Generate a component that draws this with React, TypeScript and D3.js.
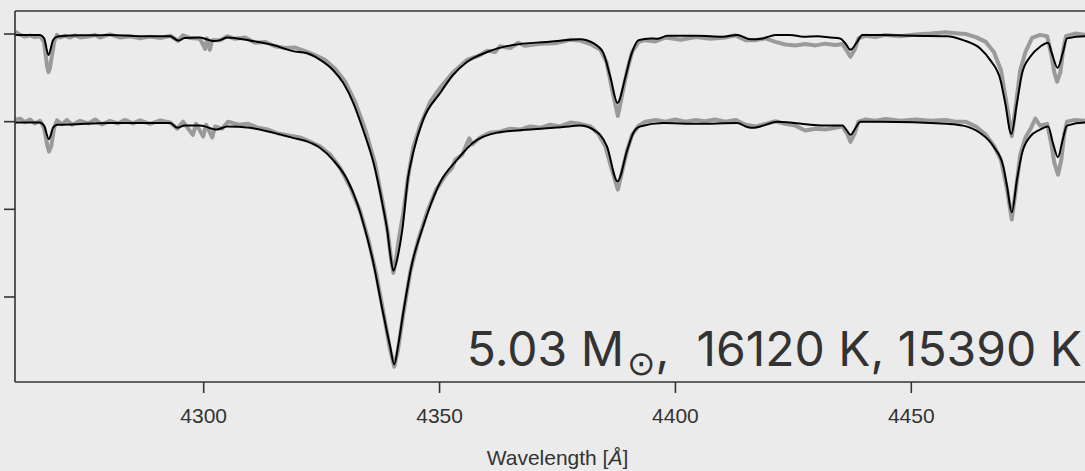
import React from 'react';
import * as d3 from 'd3';

const xTicks = [4300, 4350, 4400, 4450];
const yTicks = [0.4, 0.6, 0.8, 1.0];
const lowerOffset = 0.2;
const xDomain: [number, number] = [4260, 4490];
const yDomain: [number, number] = [0.206, 1.0525];
const annotationParts = ['5.03 M', '\u2299', ',  16120 K, 15390 K'];
const xLabel = 'Wavelength [';
const xLabelUnit = 'Å';

type P = [number, number];

const upperModel: P[] = [
  [4260.0, 0.998], [4265.3, 0.998], [4266.15, 0.991], [4267.1, 0.952], [4268.06, 0.986], [4268.9, 0.994],
  [4269.5, 0.995], [4273.8, 0.997], [4278.0, 0.997], [4280.1, 0.998], [4286.5, 0.995], [4292.9, 0.995],
  [4294.6, 0.985], [4296.0, 0.991], [4299.2, 0.992], [4302.0, 0.984], [4303.5, 0.986], [4305.0, 0.992],
  [4309.8, 0.985], [4314.7, 0.975], [4318.9, 0.961], [4321.9, 0.956], [4324.7, 0.941], [4327.4, 0.918],
  [4329.6, 0.888], [4331.7, 0.843], [4333.8, 0.781], [4336.0, 0.706], [4338.0, 0.606], [4338.9, 0.553],
  [4339.5, 0.501], [4340.2, 0.46], [4341.3, 0.501], [4342.1, 0.553], [4343.3, 0.671], [4344.4, 0.729],
  [4346.5, 0.804], [4350.1, 0.865], [4352.9, 0.907], [4355.8, 0.936], [4360.1, 0.959], [4365.6, 0.975],
  [4372.8, 0.982], [4379.8, 0.988], [4382.6, 0.979], [4384.7, 0.957], [4386.2, 0.902], [4387.7, 0.843],
  [4389.4, 0.902], [4390.5, 0.948], [4392.2, 0.986], [4394.7, 0.99], [4396.1, 0.989], [4398.3, 0.996],
  [4404.6, 0.996], [4410.1, 0.994], [4413.1, 0.998], [4415.9, 0.988], [4418.6, 0.99], [4421.2, 0.998],
  [4424.3, 0.998], [4427.1, 0.994], [4430.1, 0.995], [4432.8, 0.992], [4434.9, 0.99], [4436.0, 0.979],
  [4437.1, 0.964], [4438.5, 0.982], [4439.6, 0.998], [4443.4, 0.998], [4450.4, 0.996], [4457.6, 0.995],
  [4461.0, 0.986], [4464.6, 0.967], [4466.7, 0.941], [4468.9, 0.895], [4469.9, 0.843], [4471.2, 0.772],
  [4472.4, 0.843], [4473.5, 0.911], [4475.2, 0.948], [4477.3, 0.971], [4479.0, 0.98], [4479.8, 0.956],
  [4481.0, 0.923], [4482.1, 0.956], [4483.0, 0.99], [4486.9, 0.995], [4490.1, 0.995],
];

const lowerModel: P[] = [
  [4260.0, 0.998], [4265.3, 0.998], [4266.15, 0.991], [4267.2, 0.96], [4268.06, 0.986], [4268.9, 0.993],
  [4269.5, 0.993], [4280.1, 0.997], [4292.9, 0.997], [4294.4, 0.986], [4296.0, 0.991], [4299.2, 0.991],
  [4302.8, 0.982], [4305.0, 0.989], [4309.8, 0.986], [4314.7, 0.975], [4318.9, 0.963], [4321.9, 0.955],
  [4324.7, 0.94], [4327.4, 0.913], [4330.4, 0.868], [4332.5, 0.815], [4334.2, 0.754], [4335.9, 0.681],
  [4338.0, 0.565], [4339.5, 0.488], [4340.4, 0.446], [4341.2, 0.488], [4342.3, 0.564], [4344.2, 0.678],
  [4346.3, 0.754], [4350.1, 0.861], [4353.7, 0.913], [4357.1, 0.952], [4362.2, 0.975], [4369.2, 0.982],
  [4376.2, 0.988], [4379.8, 0.991], [4382.6, 0.982], [4385.5, 0.943], [4387.7, 0.864], [4389.8, 0.936],
  [4391.1, 0.975], [4392.5, 0.989], [4397.4, 0.997], [4404.6, 0.995], [4413.1, 0.997], [4415.2, 0.988],
  [4416.5, 0.986], [4418.6, 0.991], [4421.6, 1.0], [4424.3, 0.998], [4428.6, 0.993], [4432.8, 0.991],
  [4435.4, 0.991], [4436.2, 0.982], [4437.1, 0.97], [4438.2, 0.986], [4439.2, 1.0], [4443.4, 1.0],
  [4457.6, 0.995], [4461.0, 0.991], [4464.6, 0.974], [4467.4, 0.944], [4469.5, 0.898], [4470.3, 0.852],
  [4471.3, 0.793], [4472.4, 0.868], [4473.5, 0.929], [4475.2, 0.966], [4477.3, 0.982], [4479.0, 0.989],
  [4480.0, 0.952], [4481.1, 0.919], [4482.1, 0.959], [4483.0, 0.991], [4486.9, 0.998], [4490.1, 0.998],
];

const upperObs: P[] = [
  [4260.0, 1.006], [4261.1, 0.998], [4262.1, 0.994], [4263.2, 0.997], [4264.2, 0.993], [4265.3, 0.995],
  [4266.15, 0.982], [4266.8, 0.927], [4267.1, 0.913], [4267.4, 0.922], [4268.3, 0.982], [4268.9, 0.998],
  [4269.5, 0.992], [4270.6, 0.996], [4271.7, 0.992], [4272.7, 0.997], [4273.8, 0.992], [4275.9, 0.995],
  [4277.0, 0.998], [4278.0, 0.992], [4280.1, 0.999], [4282.3, 0.992], [4284.4, 0.995], [4286.5, 0.99],
  [4288.6, 0.994], [4290.8, 0.991], [4292.9, 0.996], [4294.6, 0.984], [4295.6, 0.997], [4297.1, 0.991],
  [4299.2, 0.989], [4300.3, 0.966], [4300.7, 0.99], [4301.3, 0.964], [4301.8, 0.986], [4303.5, 0.986],
  [4305.0, 0.995], [4306.6, 0.989], [4308.8, 0.992], [4310.9, 0.98], [4313.0, 0.982], [4315.1, 0.972],
  [4317.3, 0.968], [4319.4, 0.969], [4321.5, 0.961], [4323.6, 0.952], [4325.7, 0.941], [4327.9, 0.92],
  [4330.0, 0.891], [4332.1, 0.845], [4334.2, 0.783], [4336.3, 0.706], [4338.0, 0.612], [4339.1, 0.542],
  [4339.7, 0.489], [4340.2, 0.455], [4340.8, 0.489], [4341.4, 0.535], [4342.3, 0.59], [4343.3, 0.672],
  [4344.4, 0.74], [4345.9, 0.792], [4348.0, 0.845], [4350.1, 0.877], [4352.9, 0.913], [4355.8, 0.941],
  [4358.6, 0.952], [4360.1, 0.962], [4361.8, 0.959], [4362.8, 0.972], [4365.0, 0.968], [4366.7, 0.98],
  [4368.1, 0.973], [4371.3, 0.978], [4374.5, 0.979], [4377.7, 0.987], [4379.8, 0.985], [4382.0, 0.977],
  [4384.1, 0.964], [4385.4, 0.936], [4386.6, 0.872], [4387.8, 0.813], [4388.7, 0.861], [4389.8, 0.918],
  [4390.8, 0.959], [4392.2, 0.982], [4393.6, 0.986], [4395.8, 0.983], [4397.9, 0.992], [4401.1, 0.987],
  [4404.3, 0.993], [4407.4, 0.989], [4410.6, 0.992], [4412.7, 0.997], [4414.9, 0.986], [4417.0, 0.986],
  [4419.1, 0.99], [4421.2, 0.982], [4423.3, 0.976], [4425.4, 0.974], [4427.5, 0.977], [4429.7, 0.974],
  [4431.8, 0.978], [4433.9, 0.975], [4435.4, 0.977], [4436.5, 0.959], [4437.1, 0.948], [4438.0, 0.964],
  [4438.8, 0.99], [4440.3, 0.996], [4442.4, 0.993], [4444.6, 0.998], [4447.7, 0.995], [4450.9, 0.999],
  [4454.1, 1.001], [4457.3, 1.004], [4459.4, 1.002], [4461.5, 1.0], [4463.7, 0.993], [4465.8, 0.982],
  [4467.5, 0.959], [4469.0, 0.918], [4470.0, 0.854], [4471.3, 0.767], [4472.3, 0.85], [4473.1, 0.918],
  [4474.2, 0.959], [4475.6, 0.991], [4477.3, 0.998], [4478.8, 0.995], [4479.7, 0.952], [4480.3, 0.913],
  [4480.9, 0.891], [4481.6, 0.913], [4482.2, 0.964], [4482.8, 0.995], [4484.7, 1.001], [4486.9, 0.998],
  [4490.1, 1.0],
];

const lowerObs: P[] = [
  [4260.0, 1.004], [4261.1, 1.007], [4262.1, 0.999], [4263.2, 1.005], [4264.2, 0.996], [4265.3, 1.002],
  [4266.15, 0.986], [4266.8, 0.948], [4267.2, 0.932], [4267.7, 0.945], [4268.3, 0.986], [4268.9, 1.003],
  [4270.0, 0.994], [4271.0, 1.004], [4272.1, 0.993], [4273.8, 1.002], [4275.5, 0.996], [4277.0, 1.005],
  [4278.4, 0.994], [4280.1, 1.002], [4281.8, 0.996], [4283.3, 1.004], [4285.0, 0.996], [4286.5, 1.003],
  [4288.6, 0.995], [4290.8, 1.003], [4292.9, 0.998], [4294.4, 0.984], [4295.6, 1.0], [4297.7, 0.97],
  [4298.4, 0.995], [4299.9, 0.966], [4300.5, 0.993], [4301.8, 0.964], [4302.4, 0.989], [4303.9, 0.984],
  [4305.2, 1.0], [4307.3, 0.993], [4309.4, 0.995], [4311.5, 0.986], [4313.6, 0.982], [4315.8, 0.973],
  [4318.3, 0.968], [4320.4, 0.964], [4322.6, 0.954], [4324.7, 0.943], [4326.8, 0.925], [4328.9, 0.895],
  [4331.0, 0.852], [4333.2, 0.795], [4334.9, 0.731], [4336.6, 0.651], [4338.3, 0.553], [4339.5, 0.48],
  [4340.4, 0.441], [4341.2, 0.48], [4342.3, 0.56], [4343.8, 0.658], [4345.5, 0.731], [4347.4, 0.795],
  [4349.3, 0.845], [4351.2, 0.877], [4352.7, 0.895], [4353.3, 0.913], [4354.8, 0.925], [4356.3, 0.962],
  [4356.9, 0.948], [4358.6, 0.964], [4360.7, 0.975], [4362.8, 0.977], [4365.0, 0.984], [4367.1, 0.982],
  [4369.2, 0.989], [4371.3, 0.986], [4373.4, 0.993], [4375.5, 0.989], [4377.7, 0.998], [4379.8, 0.995],
  [4382.0, 0.989], [4383.6, 0.973], [4385.1, 0.945], [4386.4, 0.895], [4387.8, 0.845], [4388.7, 0.886],
  [4389.8, 0.936], [4390.8, 0.97], [4392.2, 0.991], [4393.6, 1.0], [4395.8, 1.004], [4397.9, 1.0],
  [4400.0, 1.005], [4402.1, 1.0], [4404.3, 1.004], [4406.3, 1.001], [4408.4, 1.005], [4410.6, 1.0],
  [4412.7, 1.004], [4414.9, 0.993], [4417.0, 0.989], [4419.1, 0.995], [4421.2, 1.001], [4423.3, 0.995],
  [4425.4, 0.991], [4427.5, 0.98], [4429.7, 0.984], [4431.8, 0.982], [4433.9, 0.986], [4435.4, 0.989],
  [4436.5, 0.97], [4437.1, 0.954], [4438.0, 0.973], [4438.8, 1.0], [4440.3, 1.005], [4442.4, 1.002],
  [4444.6, 1.006], [4447.7, 1.002], [4450.9, 1.005], [4454.1, 1.002], [4457.3, 1.004], [4459.4, 1.0],
  [4461.5, 1.0], [4463.7, 0.989], [4465.8, 0.97], [4467.5, 0.945], [4469.0, 0.913], [4470.3, 0.845],
  [4471.3, 0.777], [4472.3, 0.856], [4473.1, 0.925], [4474.2, 0.964], [4475.2, 0.982], [4476.3, 1.007],
  [4477.3, 0.991], [4478.8, 0.995], [4479.7, 0.948], [4480.3, 0.907], [4481.1, 0.879], [4481.8, 0.913],
  [4482.4, 0.97], [4483.0, 1.0], [4484.7, 1.004], [4486.9, 1.002], [4490.1, 1.004],
];

const W = 1085;
const H = 471;
const left = 15;
const right = 1100;
const top = 11;
const bottom = 382;
const axisColor = '#333333';
const textColor = '#333333';

export default function App() {
  const x = d3.scaleLinear().domain(xDomain).range([left, right]);
  const y = d3.scaleLinear().domain(yDomain).range([bottom, top]);

  const lineUpper = d3
    .line<P>()
    .x((d) => x(d[0]))
    .y((d) => y(d[1]))
    .curve(d3.curveMonotoneX);
  const lineLower = d3
    .line<P>()
    .x((d) => x(d[0]))
    .y((d) => y(d[1] - lowerOffset))
    .curve(d3.curveMonotoneX);
  const obsUpper = d3
    .line<P>()
    .x((d) => x(d[0]))
    .y((d) => y(d[1]))
    .curve(d3.curveLinear);
  const obsLower = d3
    .line<P>()
    .x((d) => x(d[0]))
    .y((d) => y(d[1] - lowerOffset))
    .curve(d3.curveLinear);

  return (
    <svg
      width={W}
      height={H}
      style={{ position: 'absolute', left: 0, top: 0, display: 'block' }}
      xmlns="http://www.w3.org/2000/svg"
    >
      <defs>
        <clipPath id="plotclip">
          <rect x={left} y={top} width={right - left} height={bottom - top} />
        </clipPath>
      </defs>
      <rect x={0} y={0} width={W} height={H} fill="#ebebeb" />
      <g clipPath="url(#plotclip)" fill="none" strokeLinejoin="round">
        <path d={obsUpper(upperObs) || ''} stroke="#9a9a9a" strokeWidth={4} />
        <path d={obsLower(lowerObs) || ''} stroke="#9a9a9a" strokeWidth={4} />
        <path d={lineUpper(upperModel) || ''} stroke="#000" strokeWidth={2} />
        <path d={lineLower(lowerModel) || ''} stroke="#000" strokeWidth={2} />
      </g>
      <g stroke={axisColor} strokeWidth={1.6} fill="none">
        <line x1={left} x2={left} y1={top} y2={bottom} />
        <line x1={left} x2={right} y1={bottom} y2={bottom} />
        <line x1={left} x2={right} y1={top} y2={top} />
        <line x1={right} x2={right} y1={top} y2={bottom} />
      </g>
      {yTicks.map((t) => (
        <line key={'y' + t} x1={left - 11} x2={left} y1={y(t)} y2={y(t)} stroke={axisColor} strokeWidth={1.6} />
      ))}
      {xTicks.map((t) => (
        <g key={'x' + t}>
          <line x1={x(t)} x2={x(t)} y1={bottom} y2={bottom + 11} stroke={axisColor} strokeWidth={1.6} />
          <text
            x={x(t)}
            y={423}
            textAnchor="middle"
            fontFamily="'Liberation Sans', Arial, sans-serif"
            fontSize={21}
            fill={textColor}
          >
            {t}
          </text>
        </g>
      ))}
      <text
        x={(left + right) / 2}
        y={465}
        textAnchor="middle"
        fontFamily="'Liberation Sans', Arial, sans-serif"
        fontSize={21}
        fill={textColor}
      >
        {xLabel}
        <tspan fontStyle="italic">{xLabelUnit}</tspan>]
      </text>
      <text
        x={1082}
        y={366}
        fontSize={48}
        textAnchor="end"
        fontFamily="Inter, sans-serif"
        fill={textColor}
        style={{ whiteSpace: 'pre' }}
      >
        {annotationParts[0]}
        <tspan fontSize={34} dy={9} dx={3} fontFamily="'DejaVu Sans', sans-serif">
          {annotationParts[1]}
        </tspan>
        <tspan dy={-9}>{annotationParts[2]}</tspan>
      </text>
    </svg>
  );
}
